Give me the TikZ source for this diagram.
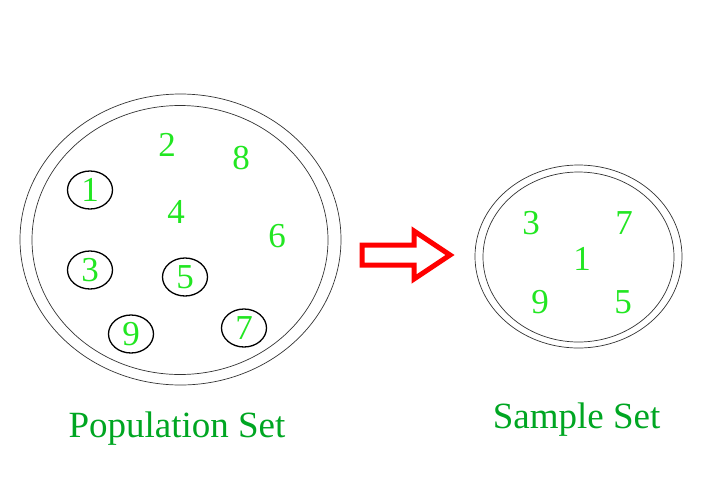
\documentclass[tikz,border=0pt]{standalone}
\usepackage{fontspec}
\setmainfont{Liberation Serif}
\usetikzlibrary{shapes.geometric}
\definecolor{numgreen}{RGB}{34,230,34}
\definecolor{labgreen}{RGB}{0,166,34}
\tikzset{
  num/.style={text=numgreen, font=\fontsize{35}{40}\selectfont, inner sep=0pt},
  picked/.style={num, draw=black, ellipse, line width=1.3pt, minimum width=45pt, minimum height=38pt},
  setlabel/.style={text=labgreen, font=\fontsize{37}{42}\selectfont, inner sep=0pt},
  rim/.style={line width=0.7pt, draw=black!80}
}
\begin{document}
\begin{tikzpicture}[x=1pt,y=-1pt]
        \useasboundingbox (0,0) rectangle (720,480);
        % population set
        \draw [rim] (180.5,239.5) ellipse [x radius=160.5, y radius=145.5];
        \draw [rim] (180,240) ellipse [x radius=148, y radius=134.5];
        \node [num] (p2) at (167,145) {2};
        \node [num] (p8) at (241,158) {8};
        \node [num] (p4) at (176,212) {4};
        \node [num] (p6) at (277,236) {6};
        \node [picked] (p1) at (90,190) {1};
        \node [picked] (p3) at (90,270) {3};
        \node [picked] (p5) at (185,277) {5};
        \node [picked] (p9) at (131,334) {9};
        \node [picked] (p7) at (244,328) {7};
        \node [setlabel, anchor=base] (poplabel) at (177,437) {Population Set};
        % arrow
        \draw [red, line width=5pt, line join=miter] (362,245) -- (414,245) -- (414,231) -- (450,255)
          -- (414,279) -- (414,265) -- (362,265) -- cycle;
        % sample set
        \draw [rim] (578.5,256.5) ellipse [x radius=103.5, y radius=91.5];
        \draw [rim] (578.5,257) ellipse [x radius=95.5, y radius=85];
        \node [num] (s3) at (531,223) {3};
        \node [num] (s7) at (624,223) {7};
        \node [num] (s1) at (582,259) {1};
        \node [num] (s9) at (540,302) {9};
        \node [num] (s5) at (623,302) {5};
        \node [setlabel, anchor=base] (samplabel) at (576.5,428) {Sample Set};
      \end{tikzpicture}
\end{document}
